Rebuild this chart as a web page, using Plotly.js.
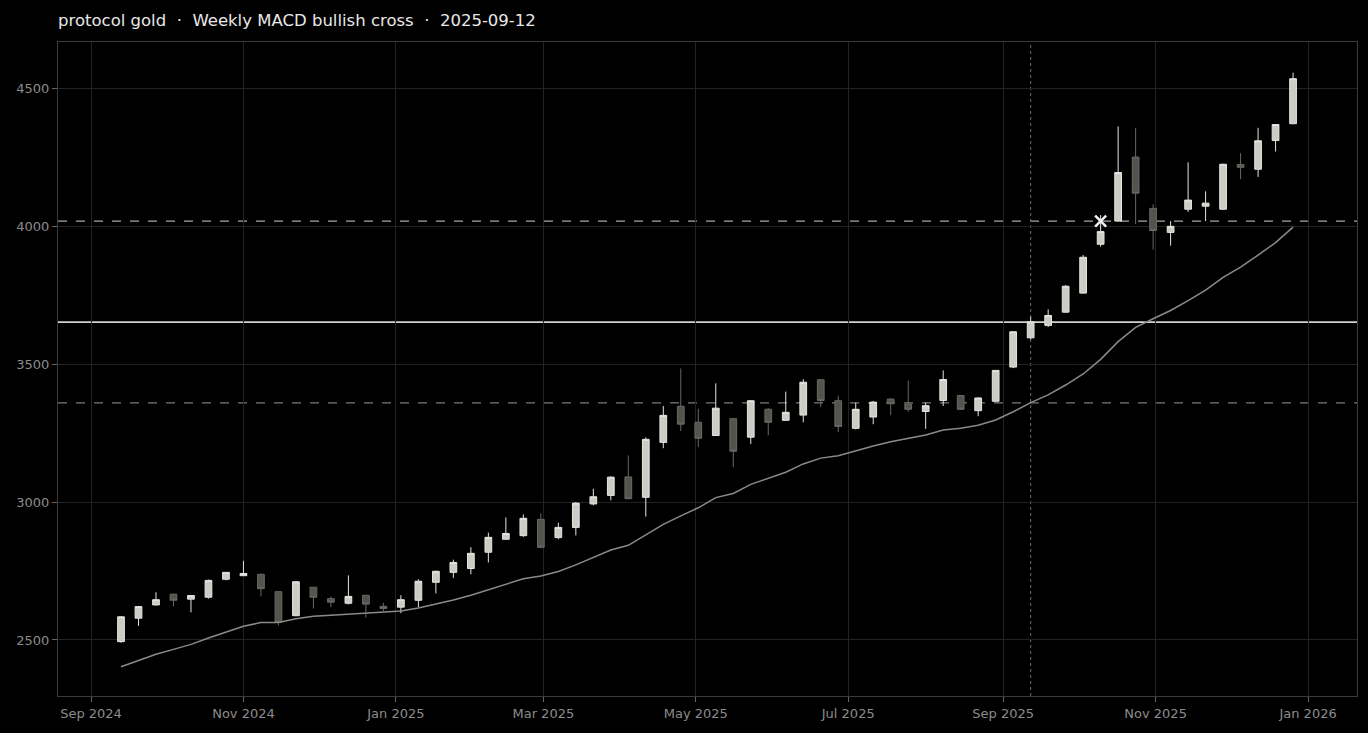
<!DOCTYPE html>
<html>
<head>
<meta charset="utf-8">
<script src="https://cdn.plot.ly/plotly-3.0.1.min.js"></script>
<style>
  html, body { margin: 0; padding: 0; background: #000; }
  #chart { width: 1368px; height: 733px; }
</style>
</head>
<body>
<div id="chart"></div>
<script>
const dates = [
  "2024-09-13","2024-09-20","2024-09-27","2024-10-04","2024-10-11","2024-10-18","2024-10-25",
  "2024-11-01","2024-11-08","2024-11-15","2024-11-22","2024-11-29","2024-12-06","2024-12-13",
  "2024-12-20","2024-12-27","2025-01-03","2025-01-10","2025-01-17","2025-01-24","2025-01-31",
  "2025-02-07","2025-02-14","2025-02-21","2025-02-28","2025-03-07","2025-03-14","2025-03-21",
  "2025-03-28","2025-04-04","2025-04-11","2025-04-18","2025-04-25","2025-05-02","2025-05-09",
  "2025-05-16","2025-05-23","2025-05-30","2025-06-06","2025-06-13","2025-06-20","2025-06-27",
  "2025-07-04","2025-07-11","2025-07-18","2025-07-25","2025-08-01","2025-08-08","2025-08-15",
  "2025-08-22","2025-08-29","2025-09-05","2025-09-12","2025-09-19","2025-09-26","2025-10-03",
  "2025-10-10","2025-10-17","2025-10-24","2025-10-31","2025-11-07","2025-11-14","2025-11-21",
  "2025-11-28","2025-12-05","2025-12-12","2025-12-19","2025-12-26"
];
const openPx = [
  2494,2579,2627,2666,2648,2655,2720,2733,2738,2675,2588,2691,2650,2633,2662,2622,
  2619,2644,2709,2745,2759,2818,2865,2878,2937,2871,2908,2993,3024,3091,3017,3216,
  3347,3289,3241,3302,3235,3336,3296,3315,3443,3367,3267,3308,3373,3355,3328,3368,
  3386,3331,3365,3489,3595,3640,3688,3757,3934,4018,4250,4064,3977,4061,4072,4061,
  4223,4206,4310,4371
];
const highPx = [
  2586,2623,2673,2668,2663,2719,2746,2787,2740,2677,2713,2692,2658,2734,2663,2635,
  2662,2720,2751,2791,2836,2889,2944,2955,2959,2925,3000,3048,3093,3169,3234,3348,
  3484,3338,3430,3303,3369,3340,3400,3445,3444,3385,3360,3366,3376,3440,3360,3477,
  3388,3380,3478,3619,3671,3698,3786,3895,4040,4361,4356,4079,4018,4231,4126,4226,
  4264,4356,4369,4556
];
const lowPx = [
  2490,2551,2625,2622,2600,2650,2716,2732,2658,2553,2586,2614,2619,2629,2581,2605,
  2597,2619,2669,2725,2738,2781,2863,2874,2832,2865,2879,2988,3006,3010,2947,3195,
  3257,3199,3240,3126,3210,3242,3294,3289,3344,3253,3263,3282,3315,3327,3265,3348,
  3333,3311,3363,3485,3589,3634,3686,3755,3925,4016,4007,3915,3929,4051,4018,4059,
  4170,4178,4270,4369
];
const closePx = [
  2584,2621,2646,2644,2661,2716,2745,2741,2686,2564,2711,2655,2637,2658,2630,2614,
  2646,2713,2749,2781,2814,2872,2886,2941,2836,2908,2996,3019,3090,3012,3227,3314,
  3282,3231,3340,3184,3367,3289,3325,3434,3368,3274,3336,3362,3356,3336,3349,3444,
  3336,3377,3477,3617,3653,3676,3782,3887,3980,4194,4119,3984,3999,4094,4083,4224,
  4213,4309,4368,4534
];
const movingAvg = [
  2403,2425,2448,2466,2484,2507,2529,2550,2563,2563,2577,2586,2590,2594,2598,2600,
  2605,2616,2630,2645,2662,2682,2703,2722,2732,2748,2772,2798,2826,2843,2880,2919,
  2950,2979,3016,3031,3064,3086,3108,3138,3159,3168,3186,3203,3218,3230,3243,3261,
  3267,3278,3297,3327,3360,3388,3424,3464,3517,3581,3633,3664,3694,3730,3768,3814,
  3851,3895,3940,3996
];
const signalDate = "2025-09-12";
const markDate = ["2025-10-10"];
const markValue = [4018];
const levelSolid = 3652;
const levelUpper = 4018;
const levelLower = 3359;
const titleText = "protocol gold\u00a0\u00a0·\u00a0\u00a0Weekly MACD bullish cross\u00a0\u00a0·\u00a0\u00a02025-09-12";

const FONT = "DejaVu Sans, sans-serif";

const traces = [
  {
    type: "candlestick",
    x: dates, open: openPx, high: highPx, low: lowPx, close: closePx,
    increasing: { line: { color: "#e6e4de", width: 1 }, fillcolor: "#cdcbc5" },
    decreasing: { line: { color: "#6a6862", width: 1 }, fillcolor: "#55534e" },
    whiskerwidth: 0,
    hoverinfo: "skip",
    showlegend: false
  },
  {
    type: "scatter", mode: "lines",
    x: dates, y: movingAvg,
    line: { color: "#8a8a8a", width: 1.5 },
    hoverinfo: "skip", showlegend: false
  },
  {
    type: "scatter", mode: "markers",
    x: markDate, y: markValue,
    marker: { symbol: "x-thin", size: 11, color: "#f2f2f2", line: { color: "#f2f2f2", width: 2.5 } },
    hoverinfo: "skip", showlegend: false
  }
];

const axisCommon = {
  showline: true, linecolor: "#3a3a3a", linewidth: 1, mirror: true,
  ticks: "outside", ticklen: 5, tickcolor: "#666", tickwidth: 1,
  gridcolor: "#222222", gridwidth: 1, zeroline: false,
  tickfont: { family: FONT, size: 13, color: "#8c8c8c" }
};

const layout = {
  width: 1368, height: 733,
  paper_bgcolor: "#000", plot_bgcolor: "#000",
  margin: { l: 58, r: 11, t: 42, b: 37 },
  boxgap: 0.45,
  showlegend: false,
  title: {
    text: titleText,
    x: 0, xref: "paper", xanchor: "left",
    y: 1 - 20 / 733, yref: "container", yanchor: "middle",
    font: { family: FONT, size: 16.5, color: "#e8e8e8" }
  },
  xaxis: Object.assign({}, axisCommon, {
    type: "date",
    range: ["2024-08-18 19:00", "2026-01-20 14:00"],
    tick0: "2024-09-01", dtick: "M2", tickformat: "%b %Y",
    rangeslider: { visible: false }
  }),
  yaxis: Object.assign({}, axisCommon, {
    range: [2297, 4667],
    tickvals: [2500, 3000, 3500, 4000, 4500]
  }),
  shapes: [
    { type: "line", xref: "paper", x0: 0, x1: 1, yref: "y", y0: levelSolid, y1: levelSolid,
      line: { color: "#d2d2d2", width: 1.6 }, layer: "below" },
    { type: "line", xref: "paper", x0: 0, x1: 1, yref: "y", y0: levelUpper, y1: levelUpper,
      line: { color: "#a8a8a8", width: 1.2, dash: "dash" }, layer: "below" },
    { type: "line", xref: "paper", x0: 0, x1: 1, yref: "y", y0: levelLower, y1: levelLower,
      line: { color: "#7a7a7a", width: 1.2, dash: "dash" }, layer: "below" },
    { type: "line", xref: "x", x0: signalDate, x1: signalDate, yref: "paper", y0: 0, y1: 1,
      line: { color: "#6e6e6e", width: 1, dash: "dot" }, layer: "below" }
  ]
};

Plotly.newPlot("chart", traces, layout, { displayModeBar: false, staticPlot: true });
</script>
</body>
</html>
